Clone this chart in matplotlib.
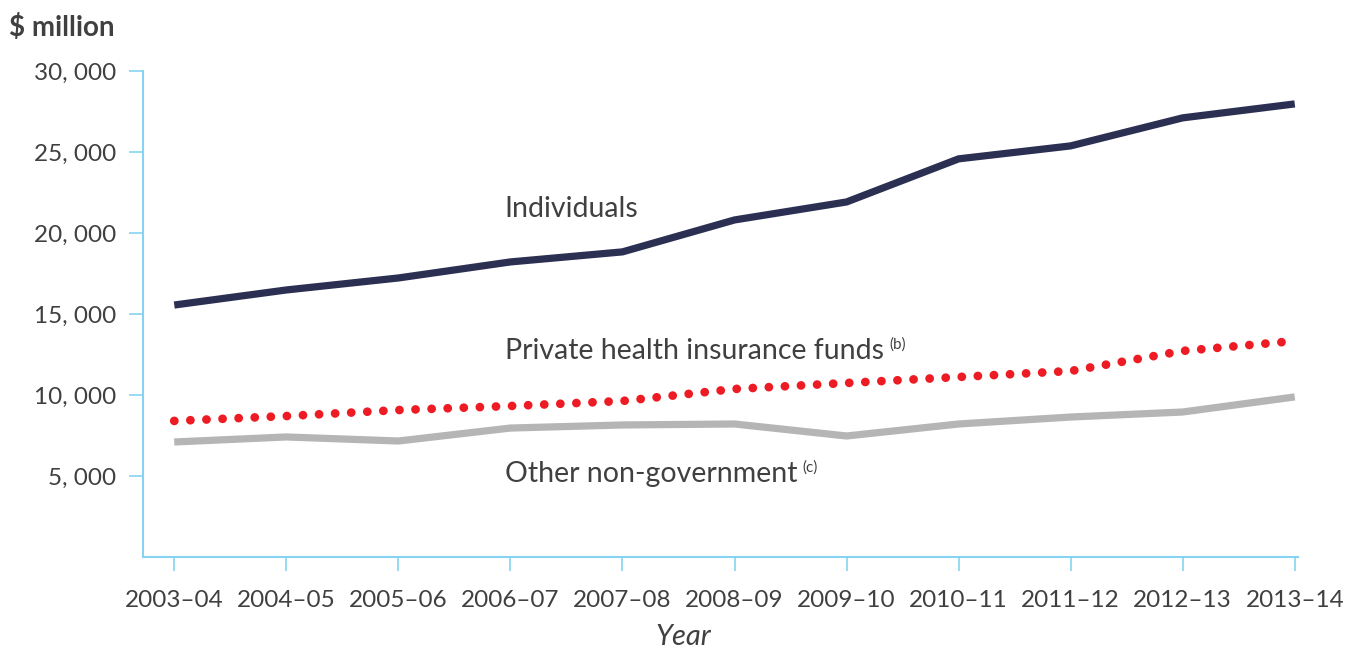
import matplotlib.pyplot as plt

years = ["2003–04", "2004–05", "2005–06", "2006–07", "2007–08", "2008–09",
         "2009–10", "2010–11", "2011–12", "2012–13", "2013–14"]
individuals = [15550, 16480, 17220, 18210, 18830, 20800, 21910, 24570, 25370, 27100, 27960]
private_funds = [8400, 8700, 9070, 9320, 9630, 10370, 10740, 11110, 11480, 12720, 13330]
other_nongov = [7100, 7410, 7160, 7960, 8150, 8210, 7470, 8210, 8640, 8950, 9880]
yticks = [5000, 10000, 15000, 20000, 25000, 30000]

plt.rcParams['font.family'] = ['Lato', 'DejaVu Sans']
txt = '#404040'
axis_col = '#86d4f2'

fig = plt.figure(figsize=(13.48, 6.5), dpi=100)
ax = fig.add_axes([0.106, 0.143, 0.857, 0.748])

x = range(len(years))
ax.plot(x, individuals, color='#2b3052', lw=5.2, solid_capstyle='butt')
ax.plot(x, other_nongov, color='#b5b5b5', lw=5.2, solid_capstyle='butt')
# dotted line: tiny dashes with round caps
ax.plot(x, private_funds, color='#ed1c24', lw=6.3, linestyle=(0, (0.01, 1.83)),
        dash_capstyle='round')

ax.set_xlim(-0.28, 10.03)
ax.set_ylim(0, 30000)
ax.set_xticks(list(x))
ax.set_xticklabels(years)
ax.set_yticks(yticks)
ax.set_yticklabels([f"{v // 1000}, 000" for v in yticks])

for s in ['top', 'right']:
    ax.spines[s].set_visible(False)
for s in ['left', 'bottom']:
    ax.spines[s].set_color(axis_col)
    ax.spines[s].set_linewidth(1.5)
ax.tick_params(axis='both', colors=axis_col, width=1.2, length=10,
               labelcolor=txt, labelsize=17.5)
ax.tick_params(axis='x', pad=14)
ax.tick_params(axis='y', pad=9)

ax.set_xlabel('Year', fontsize=21, style='italic', color=txt)
ax.xaxis.set_label_coords(0.4675, -0.138)
fig.text(0.007, 0.958, '$ million', fontsize=20, fontweight='bold', color=txt,
         va='center', ha='left')

def label(xp, yp, s, sup=None):
    t = ax.text(xp, yp, s, fontsize=20.5, color=txt, va='center', ha='left')
    if sup:
        ax.annotate(sup, xy=(1, 0.75), xycoords=t, xytext=(4, 0),
                    textcoords='offset points', fontsize=11, color=txt,
                    va='center', ha='left')

label(2.95, 21500, 'Individuals')
label(2.95, 12700, 'Private health insurance funds', '(b)')
label(2.95, 5100, 'Other non-government', '(c)')

fig.savefig('out.png', dpi=100)
